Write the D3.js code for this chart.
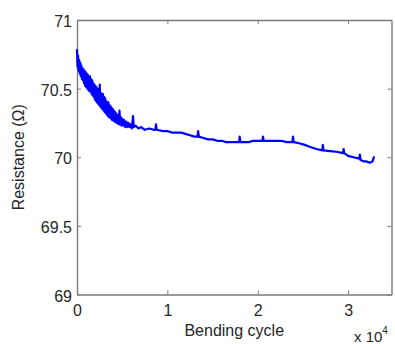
<!DOCTYPE html>
<html>
<head>
<meta charset="utf-8">
<script src="https://cdn.jsdelivr.net/npm/d3@7"></script>
<style>
  body { margin: 0; background: #fff; }
  svg { display: block; font-family: "Liberation Sans", Arial, Helvetica, sans-serif; }
</style>
</head>
<body>
<svg id="chart" width="395" height="344"></svg>
<script>
// bending cycles in units of 10^4
const cycles = [
  0.000, 0.006, 0.012, 0.018, 0.024, 0.030, 0.036, 0.042, 0.048, 0.054,
  0.060, 0.066, 0.072, 0.078, 0.084, 0.090, 0.096, 0.102, 0.108, 0.114,
  0.120, 0.126, 0.132, 0.138, 0.144, 0.150, 0.156, 0.162, 0.168, 0.174,
  0.180, 0.186, 0.192, 0.198, 0.204, 0.210, 0.216, 0.222, 0.228, 0.234,
  0.240, 0.246, 0.252, 0.258, 0.264, 0.270, 0.276, 0.282, 0.288, 0.294,
  0.300, 0.306, 0.312, 0.318, 0.324, 0.330, 0.336, 0.342, 0.348, 0.354,
  0.360, 0.366, 0.372, 0.378, 0.384, 0.390, 0.396, 0.402, 0.408, 0.414,
  0.420, 0.426, 0.432, 0.438, 0.444, 0.450, 0.456, 0.462, 0.470, 0.478,
  0.486, 0.494, 0.502, 0.512, 0.522, 0.534, 0.546, 0.558, 0.570, 0.582,
  0.594, 0.606, 0.620, 0.628, 0.650, 0.680, 0.710, 0.750, 0.800, 0.850,
  0.868, 0.874, 0.882, 0.950, 1.000, 1.050, 1.100, 1.150, 1.200, 1.250,
  1.300, 1.334, 1.340, 1.348, 1.400, 1.450, 1.500, 1.550, 1.600, 1.650,
  1.700, 1.750, 1.794, 1.800, 1.808, 1.850, 1.900, 1.950, 2.000, 2.050,
  2.058, 2.066, 2.100, 2.150, 2.210, 2.260, 2.320, 2.384, 2.390, 2.398,
  2.470, 2.520, 2.580, 2.650, 2.714, 2.720, 2.728, 2.800, 2.870, 2.944,
  2.950, 2.958, 3.000, 3.060, 3.124, 3.130, 3.138, 3.170, 3.200, 3.240,
  3.270, 3.280, 3.285
];
// resistance in ohm
const resistance = [
  70.78, 70.66, 70.74, 70.63, 70.71, 70.61, 70.69, 70.59, 70.67, 70.57,
  70.65, 70.56, 70.64, 70.54, 70.63, 70.52, 70.62, 70.51, 70.61, 70.50,
  70.60, 70.49, 70.59, 70.48, 70.59, 70.48, 70.57, 70.46, 70.56, 70.45,
  70.54, 70.44, 70.53, 70.42, 70.52, 70.41, 70.51, 70.40, 70.50, 70.39,
  70.49, 70.38, 70.53, 70.37, 70.47, 70.36, 70.46, 70.35, 70.46, 70.34,
  70.44, 70.33, 70.43, 70.32, 70.41, 70.31, 70.40, 70.30, 70.40, 70.29,
  70.38, 70.29, 70.37, 70.28, 70.36, 70.27, 70.35, 70.27, 70.34, 70.26,
  70.33, 70.26, 70.32, 70.25, 70.31, 70.25, 70.30, 70.24, 70.34, 70.24,
  70.29, 70.23, 70.28, 70.23, 70.27, 70.22, 70.26, 70.22, 70.25, 70.22,
  70.24, 70.21, 70.30, 70.22, 70.23, 70.21, 70.22, 70.20, 70.21, 70.20,
  70.20, 70.24, 70.20, 70.19, 70.19, 70.18, 70.18, 70.18, 70.17, 70.16,
  70.15, 70.15, 70.19, 70.15, 70.14, 70.13, 70.13, 70.12, 70.12, 70.11,
  70.11, 70.11, 70.11, 70.15, 70.11, 70.11, 70.11, 70.12, 70.12, 70.12,
  70.15, 70.12, 70.12, 70.12, 70.12, 70.12, 70.11, 70.11, 70.15, 70.11,
  70.10, 70.09, 70.075, 70.06, 70.05, 70.09, 70.05, 70.045, 70.04, 70.03,
  70.06, 70.03, 70.01, 70.00, 69.99, 70.02, 69.98, 69.97, 69.97, 69.96,
  69.97, 69.99, 70.00
];
const xTicks = [0, 1, 2, 3];
const yTicks = [69, 69.5, 70, 70.5, 71];

const svg = d3.select('#chart');
const margin = {top: 20, right: 3.5, bottom: 49.5, left: 77};
const width = +svg.attr('width') - margin.left - margin.right;
const height = +svg.attr('height') - margin.top - margin.bottom;
const g = svg.append('g').attr('transform', `translate(${margin.left}, ${margin.top})`);

const x = d3.scaleLinear().domain([0, 3.48]).range([0, width]);
const y = d3.scaleLinear().domain([69, 71]).range([height, 0]);

const axisColor = '#7a7a7a';
const textColor = '#262626';

function styleAxis(sel) {
  sel.select('.domain').attr('stroke', axisColor).attr('stroke-width', 1.4);
  sel.selectAll('.tick line').attr('stroke', axisColor).attr('stroke-width', 1);
  sel.selectAll('.tick text').attr('fill', textColor).style('font-size', '16px');
}

g.append('g')
  .attr('transform', `translate(0, ${height})`)
  .call(d3.axisBottom(x).tickValues(xTicks).tickSizeInner(-4).tickSizeOuter(0).tickPadding(10).tickFormat(d3.format('d')))
  .call(styleAxis);

g.append('g')
  .call(d3.axisLeft(y).tickValues(yTicks).tickSizeInner(-4).tickSizeOuter(0).tickPadding(5).tickFormat(d => d))
  .call(styleAxis)
  .selectAll('.tick text').attr('dy', '0.42em');

// box: top and right edges with inward ticks
g.append('g')
  .call(d3.axisTop(x).tickValues(xTicks).tickSizeInner(-4).tickSizeOuter(0).tickFormat(''))
  .call(styleAxis);

g.append('g')
  .attr('transform', `translate(${width}, 0)`)
  .call(d3.axisRight(y).tickValues(yTicks).tickSizeInner(-4).tickSizeOuter(0).tickFormat(''))
  .call(styleAxis);

const line = d3.line()
  .x((d, i) => x(cycles[i]))
  .y(d => y(d));

g.append('path')
  .datum(resistance)
  .attr('fill', 'none')
  .attr('stroke', '#0000ff')
  .attr('stroke-width', 2.2)
  .attr('stroke-linejoin', 'round')
  .attr('stroke-linecap', 'round')
  .attr('d', line);

// axis labels
svg.append('text')
  .attr('x', margin.left + width / 2)
  .attr('y', 336)
  .attr('text-anchor', 'middle')
  .attr('fill', textColor)
  .style('font-size', '16px')
  .text('Bending cycle');

svg.append('text')
  .attr('transform', `translate(24, ${margin.top + height / 2}) rotate(-90)`)
  .attr('text-anchor', 'middle')
  .attr('fill', textColor)
  .style('font-size', '16px')
  .text('Resistance (Ω)');

const exp = svg.append('text')
  .attr('x', 354)
  .attr('y', 342)
  .attr('fill', textColor)
  .style('font-size', '15px');
exp.append('tspan').text('x 10');
exp.append('tspan').attr('dy', -8).style('font-size', '10px').text('4');
</script>
</body>
</html>
